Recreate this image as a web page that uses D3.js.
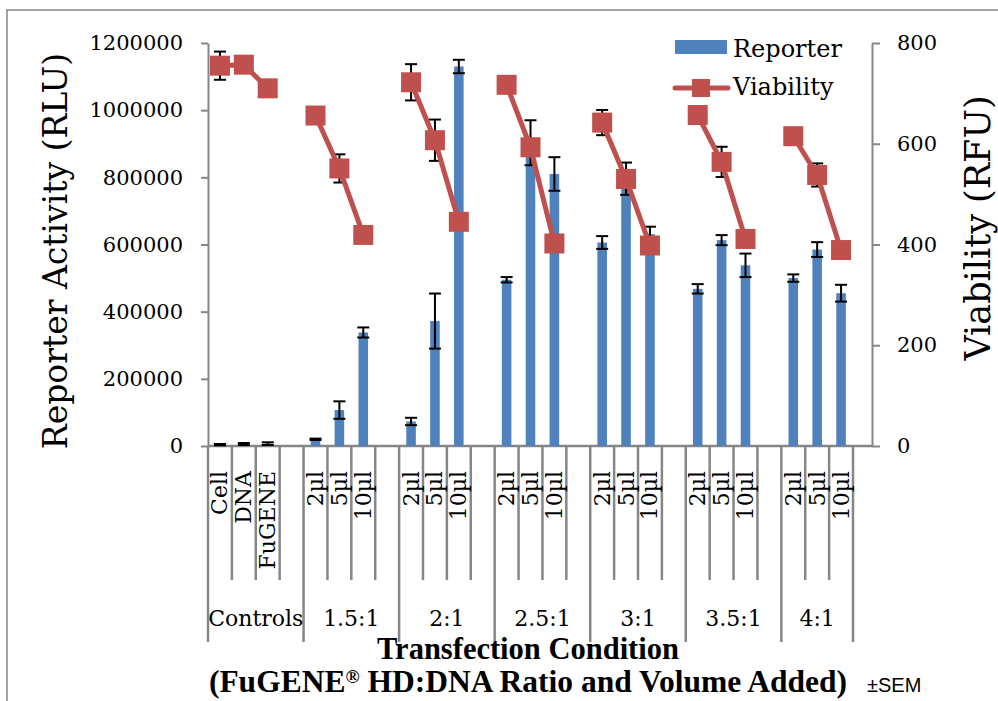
<!DOCTYPE html>
<html>
<head>
<meta charset="utf-8">
<script src="https://cdn.jsdelivr.net/npm/d3@7"></script>
<style>
  body { margin: 0; background: #fff; }
  svg { display: block; }
</style>
</head>
<body>
<div id="chart"></div>
<script>
// reporter activity (bars, left axis) and viability (lines, right axis)

const groups = ["Controls", "1.5:1", "2:1", "2.5:1", "3:1", "3.5:1", "4:1"];
const controlLabels = ["Cell", "DNA", "FuGENE"];
const volumeLabels = ["2µl", "5µl", "10µl"];

// 3 values per group, in the order of the groups above
const reporter    = [4000, 6000, 7000, 20000, 107000, 338000, 73000, 372000, 1130000, 495000, 903000, 810000, 606000, 796000, 631000, 468000, 613000, 538000, 500000, 585000, 455000];
const reporterErr = [2000, 3000, 4000, 2000, 26000, 15000, 11000, 82000, 20000, 8000, 67000, 50000, 19000, 48000, 22000, 14000, 15000, 35000, 11000, 22000, 25000];
const viability    = [755, 757, 710, 656, 551, 419, 722, 607, 445, 717, 593, 402, 642, 530, 398, 657, 564, 411, 615, 538, 389];
const viabilityErr = [28, 0, 0, 0, 28, 0, 36, 41, 0, 0, 0, 0, 25, 0, 0, 0, 30, 0, 0, 23, 0];

const leftTicks = [0, 200000, 400000, 600000, 800000, 1000000, 1200000];
const rightTicks = [0, 200, 400, 600, 800];

const width = 998;
const height = 701;
const plot = { left: 208, right: 872, top: 43, bottom: 446 };
const slotEnd = 853;
const blue = "#4F81BD";
const red = "#C0504D";
const axisGray = "#868686";
const serif = "DejaVu Serif";

// slots: each group gets its 3 conditions, then an empty slot (not after the last group)
const rows = [];
const slots = [];
groups.forEach((g, gi) => {
  const subs = gi === 0 ? controlLabels : volumeLabels;
  subs.forEach((s, si) => {
    const i = gi * 3 + si;
    const key = `${gi}-${si}`;
    slots.push(key);
    rows.push({
      key, group: g, gi, label: s,
      rep: reporter[i], repErr: reporterErr[i],
      via: viability[i], viaErr: viabilityErr[i]
    });
  });
  if (gi < groups.length - 1) slots.push(`${gi}-blank`);
});

const svg = d3.select("#chart").append("svg")
  .attr("width", width)
  .attr("height", height);

svg.append("rect")
  .attr("x", 7).attr("y", 10)
  .attr("width", width).attr("height", height)
  .attr("fill", "#fff")
  .attr("stroke", axisGray)
  .attr("stroke-width", 1.5);

const x = d3.scaleBand().domain(slots).range([plot.left, slotEnd]).padding(0);
const yL = d3.scaleLinear().domain([0, 1200000]).range([plot.bottom, plot.top]);
const yR = d3.scaleLinear().domain([0, 800]).range([plot.bottom, plot.top]);
const barW = x.bandwidth() * 0.4;
const cx = d => x(d.key) + x.bandwidth() / 2;

// category separators below the axis
const sep = svg.append("g").attr("stroke", axisGray).attr("stroke-width", 2.5);
slots.forEach(k => {
  const isGroupStart = k.endsWith("-0");
  sep.append("line")
    .attr("x1", x(k)).attr("x2", x(k))
    .attr("y1", plot.bottom).attr("y2", isGroupStart ? 642 : 580);
});
sep.append("line")
  .attr("x1", slotEnd).attr("x2", slotEnd)
  .attr("y1", plot.bottom).attr("y2", 642);

// axes
const leftAxis = svg.append("g")
  .attr("transform", `translate(${plot.left},0)`)
  .call(d3.axisLeft(yL).tickValues(leftTicks).tickSize(7).tickSizeOuter(0).tickPadding(18).tickFormat(d3.format("d")));
const rightAxis = svg.append("g")
  .attr("transform", `translate(${plot.right},0)`)
  .call(d3.axisRight(yR).tickValues(rightTicks).tickSize(8).tickSizeOuter(0).tickPadding(17));

[leftAxis, rightAxis].forEach(a => {
  a.selectAll("path, line").attr("stroke", axisGray).attr("stroke-width", 2);
  a.selectAll("text")
    .attr("fill", "#000")
    .style("font-family", serif)
    .style("font-size", "21px");
});

svg.append("line")
  .attr("x1", plot.left).attr("x2", plot.right)
  .attr("y1", plot.bottom).attr("y2", plot.bottom)
  .attr("stroke", axisGray).attr("stroke-width", 2.5);

// bars
svg.append("g").selectAll("rect")
  .data(rows)
  .join("rect")
  .attr("x", d => cx(d) - barW / 2)
  .attr("width", barW)
  .attr("y", d => yL(d.rep))
  .attr("height", d => yL(0) - yL(d.rep))
  .attr("fill", blue);

// error bars (drawn under the viability markers)
const errG = svg.append("g").attr("stroke", "#000").attr("stroke-width", 2);
function errorBar(xc, yTop, yBot) {
  errG.append("line").attr("x1", xc).attr("x2", xc).attr("y1", yTop).attr("y2", yBot);
  errG.append("line").attr("x1", xc - 6).attr("x2", xc + 6).attr("y1", yTop).attr("y2", yTop);
  errG.append("line").attr("x1", xc - 6).attr("x2", xc + 6).attr("y1", yBot).attr("y2", yBot);
}
rows.forEach(d => {
  errorBar(cx(d), yL(d.rep + d.repErr), yL(Math.max(0, d.rep - d.repErr)));
  if (d.viaErr > 0) errorBar(cx(d), yR(d.via + d.viaErr), yR(d.via - d.viaErr));
});

// viability lines, one per group
const line = d3.line().x(cx).y(d => yR(d.via));
svg.append("g").selectAll("path")
  .data(d3.groups(rows, d => d.gi).map(g => g[1]))
  .join("path")
  .attr("d", line)
  .attr("fill", "none")
  .attr("stroke", red)
  .attr("stroke-width", 5);

svg.append("g").selectAll("rect")
  .data(rows)
  .join("rect")
  .attr("x", d => cx(d) - 10)
  .attr("y", d => yR(d.via) - 10)
  .attr("width", 20)
  .attr("height", 20)
  .attr("fill", red);

// category labels
svg.append("g").selectAll("text")
  .data(rows)
  .join("text")
  .attr("transform", d => `translate(${cx(d)},471) rotate(-90)`)
  .attr("text-anchor", "end")
  .attr("dominant-baseline", "central")
  .style("font-family", serif)
  .style("font-size", "22px")
  .text(d => d.label);

svg.append("g").selectAll("text")
  .data(groups)
  .join("text")
  .attr("x", (g, gi) => {
    const keys = slots.filter(k => k.startsWith(`${gi}-`));
    const start = x(keys[0]);
    const end = gi === groups.length - 1 ? slotEnd : x(keys[keys.length - 1]) + x.bandwidth();
    return (start + end) / 2;
  })
  .attr("y", 626)
  .attr("text-anchor", "middle")
  .style("font-family", serif)
  .style("font-size", "22px")
  .text(g => g);

// axis titles
svg.append("text")
  .attr("transform", `translate(67,251) rotate(-90)`)
  .attr("text-anchor", "middle")
  .style("font-family", serif)
  .style("font-size", "33px")
  .text("Reporter Activity (RLU)");

svg.append("text")
  .attr("transform", `translate(990,228) rotate(-90)`)
  .attr("text-anchor", "middle")
  .style("font-family", serif)
  .style("font-size", "35px")
  .text("Viability (RFU)");

svg.append("text")
  .attr("x", 528).attr("y", 659)
  .attr("text-anchor", "middle")
  .style("font-family", "Liberation Serif")
  .style("font-weight", "bold")
  .style("font-size", "30.5px")
  .text("Transfection Condition");

const sub = svg.append("text")
  .attr("x", 528).attr("y", 692)
  .attr("text-anchor", "middle")
  .style("font-family", "Liberation Serif")
  .style("font-weight", "bold")
  .style("font-size", "31.5px");
sub.append("tspan").text("(FuGENE");
sub.append("tspan").attr("dy", -9).style("font-size", "19px").text("®");
sub.append("tspan").attr("dy", 9).text(" HD:DNA Ratio and Volume Added)");

svg.append("text")
  .attr("x", 867).attr("y", 692)
  .style("font-family", "Liberation Sans")
  .style("font-size", "20px")
  .text("±SEM");

// legend
const legend = svg.append("g");
legend.append("rect")
  .attr("x", 675).attr("y", 40).attr("width", 52).attr("height", 14)
  .attr("fill", blue);
legend.append("text")
  .attr("x", 733).attr("y", 57)
  .style("font-family", serif).style("font-size", "24px")
  .text("Reporter");
legend.append("line")
  .attr("x1", 675).attr("x2", 728).attr("y1", 88).attr("y2", 88)
  .attr("stroke", red).attr("stroke-width", 5).attr("stroke-linecap", "round");
legend.append("rect")
  .attr("x", 692).attr("y", 79).attr("width", 18).attr("height", 18)
  .attr("fill", red);
legend.append("text")
  .attr("x", 733).attr("y", 95)
  .style("font-family", serif).style("font-size", "24px")
  .text("Viability");
</script>
</body>
</html>
